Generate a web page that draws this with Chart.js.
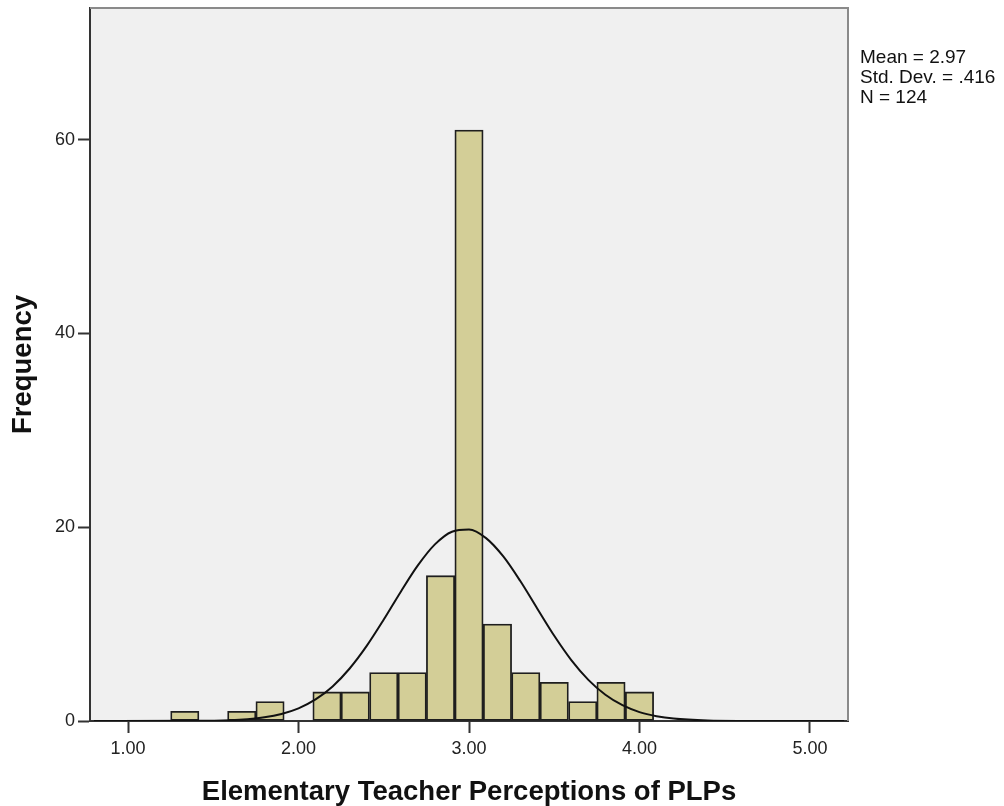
<!DOCTYPE html>
<html>
<head>
<meta charset="utf-8">
<script src="https://cdn.jsdelivr.net/npm/chart.js@4.4.1/dist/chart.umd.min.js"></script>
<style>
  html, body { margin: 0; padding: 0; background: #fff; }
  #wrap { width: 1004px; height: 806px; }
</style>
</head>
<body>
<div id="wrap"><canvas id="myChart" width="1004" height="806"></canvas></div>
<script>
// histogram bins (width 1/6), centres and counts
const binCenters = [1.333, 1.5, 1.667, 1.833, 2.0, 2.167, 2.333, 2.5, 2.667, 2.833, 3.0, 3.167, 3.333, 3.5, 3.667, 3.833, 4.0];
const binCounts  = [1, null, 1, 2, null, 3, 3, 5, 5, 15, 61, 10, 5, 4, 2, 4, 3];

// normal curve
const curveX = [0.8, 1.4, 1.6, 1.7, 1.8, 1.9, 2.0, 2.1, 2.2, 2.3, 2.4, 2.5, 2.6, 2.7, 2.8, 2.9, 3.0,
                3.1, 3.2, 3.3, 3.4, 3.5, 3.6, 3.7, 3.8, 3.9, 4.0, 4.1, 4.2, 4.4, 4.6, 5.2];
const curveY = [0, 0.02, 0.09, 0.19, 0.38, 0.73, 1.31, 2.23, 3.57, 5.42, 7.75, 10.47, 13.35, 16.06, 18.23, 19.54, 19.77,
                18.88, 17.01, 14.47, 11.62, 8.80, 6.29, 4.25, 2.71, 1.63, 0.92, 0.50, 0.25, 0.05, 0.01, 0];

const xTicks = [1, 2, 3, 4, 5];
const yTicks = [0, 20, 40, 60];
const statLines = ['Mean = 2.97', 'Std. Dev. = .416', 'N = 124'];
const xTitle = 'Elementary Teacher Perceptions of PLPs';
const yTitle = 'Frequency';

const FONT = '"Liberation Sans", Arial, sans-serif';

// plot background, grey top/right frame and the stats box
const framePlugin = {
  id: 'frame',
  beforeDraw(chart) {
    const { ctx, chartArea: a } = chart;
    ctx.save();
    ctx.fillStyle = '#f0f0f0';
    ctx.fillRect(a.left, a.top, a.right - a.left, a.bottom - a.top);
    ctx.restore();
  },
  afterDraw(chart) {
    const { ctx, chartArea: a } = chart;
    ctx.save();
    ctx.strokeStyle = '#8a8a8a';
    ctx.lineWidth = 2;
    ctx.beginPath();
    ctx.moveTo(a.left, a.top);
    ctx.lineTo(a.right, a.top);
    ctx.lineTo(a.right, a.bottom);
    ctx.stroke();

    ctx.fillStyle = '#111';
    ctx.font = '19px ' + FONT;
    ctx.textBaseline = 'alphabetic';
    statLines.forEach((t, i) => ctx.fillText(t, 860, 63 + i * 20));
    ctx.restore();
  }
};

let myChart;

const setup = () => {
  const context = document.getElementById('myChart').getContext('2d');

  myChart = new Chart(context, {
    type: 'bar',
    data: {
      datasets: [
        {
          type: 'line',
          data: curveX.map((x, i) => ({ x: x, y: curveY[i] })),
          borderColor: '#111',
          borderWidth: 2,
          pointRadius: 0,
          cubicInterpolationMode: 'monotone',
          fill: false,
          order: 0
        },
        {
          type: 'bar',
          data: binCenters.map((x, i) => ({ x: x, y: binCounts[i] })),
          backgroundColor: '#d3ce97',
          borderColor: '#1e1e1e',
          borderWidth: 1.8,
          borderSkipped: false,
          barPercentage: 1,
          categoryPercentage: 1,
          order: 1
        }
      ]
    },
    options: {
      responsive: false,
      animation: false,
      layout: { padding: { top: 8, right: 156, bottom: 0, left: 0 } },
      plugins: { legend: { display: false }, tooltip: { enabled: false } },
      scales: {
        x: {
          type: 'linear',
          min: 0.777,
          max: 5.223,
          offset: false,
          afterBuildTicks: s => { s.ticks = xTicks.map(v => ({ value: v })); },
          afterFit: s => { s.height = 85; s.paddingLeft = 0; s.paddingRight = 0; },
          ticks: {
            callback: v => Number(v).toFixed(2),
            font: { family: FONT, size: 18 },
            color: '#222',
            padding: 5,
            maxRotation: 0,
            autoSkip: false
          },
          grid: { drawOnChartArea: false, offset: false, tickLength: 12, tickWidth: 2, tickColor: '#333' },
          border: { color: '#333', width: 2 },
          title: {
            display: true,
            text: xTitle,
            color: '#111',
            font: { family: FONT, size: 27.5, weight: 'bold', lineHeight: 1 },
            padding: { top: 0, bottom: 0 }
          }
        },
        y: {
          min: 0,
          max: 73.6,
          afterBuildTicks: s => { s.ticks = yTicks.map(v => ({ value: v })); },
          afterFit: s => { s.width = 90; s.paddingTop = 0; s.paddingBottom = 0; },
          ticks: {
            font: { family: FONT, size: 18 },
            color: '#222',
            padding: 3
          },
          grid: { drawOnChartArea: false, tickLength: 12, tickWidth: 2, tickColor: '#333' },
          border: { color: '#333', width: 2 },
          title: {
            display: true,
            text: yTitle,
            color: '#111',
            font: { family: FONT, size: 27.5, weight: 'bold', lineHeight: 1 },
            padding: { top: 10, bottom: 0 }
          }
        }
      }
    },
    plugins: [framePlugin]
  });
};

window.addEventListener('DOMContentLoaded', setup);
</script>
</body>
</html>
